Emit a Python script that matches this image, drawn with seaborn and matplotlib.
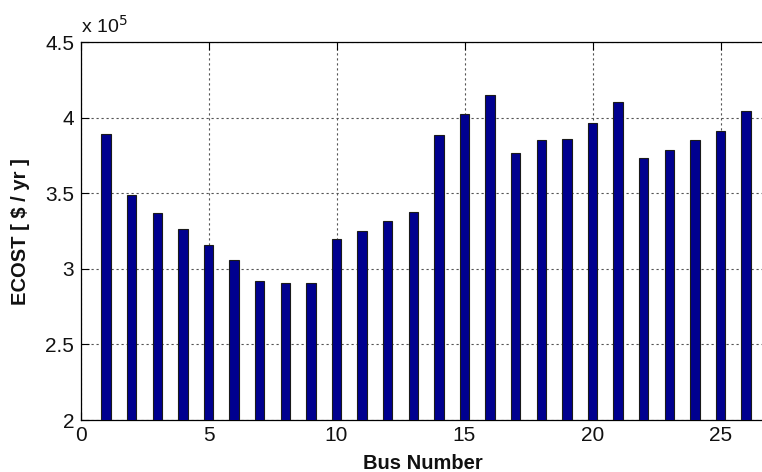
import matplotlib
matplotlib.use("Agg")
import matplotlib.pyplot as plt
import seaborn as sns
import pandas as pd

# Expected cost of interruption per load bus
bus_numbers = list(range(1, 27))
ecost = [3.896, 3.489, 3.373, 3.266, 3.159, 3.059, 2.922, 2.910, 2.904, 3.199,
         3.253, 3.320, 3.380, 3.884, 4.023, 4.150, 3.766, 3.853, 3.862, 3.969,
         4.107, 3.735, 3.786, 3.856, 3.916, 4.043]  # in units of 1e5 $/yr
x_ticks = [0, 5, 10, 15, 20, 25]
y_ticks = [2, 2.5, 3, 3.5, 4, 4.5]
y_tick_labels = ["2", "2.5", "3", "3.5", "4", "4.5"]

df = pd.DataFrame({"bus": bus_numbers, "ecost": ecost})

sns.set_theme(style="white")
plt.rcParams["font.family"] = ["Liberation Sans", "DejaVu Sans"]

W, H = 762, 472
x0_px, y_top_px, y_bot_px = 80.5, 42.3, 420.0
px_per_unit = 25.6
x_max = 30

fig = plt.figure(figsize=(W / 100, H / 100), dpi=100)
ax = fig.add_axes([x0_px / W, (H - y_bot_px) / H,
                   x_max * px_per_unit / W, (y_bot_px - y_top_px) / H])

sns.barplot(data=df, x="bus", y="ecost", native_scale=True, width=0.36,
            color="#00008f", saturation=1, edgecolor="#1a1a1a", linewidth=0.8,
            ax=ax, zorder=3)

ax.set_xlim(0, x_max)
ax.set_ylim(2, 4.5)
ax.set_xticks(x_ticks)
ax.set_xticklabels([str(t) for t in x_ticks])
ax.set_yticks(y_ticks)
ax.set_yticklabels(y_tick_labels)

ax.grid(True, color="#555555", linestyle=(0, (2, 2.5)), linewidth=0.8, zorder=0)
ax.set_axisbelow(True)

for side in ["left", "bottom", "top"]:
    ax.spines[side].set_visible(True)
    ax.spines[side].set_color("black")
    ax.spines[side].set_linewidth(0.9)
ax.spines["right"].set_visible(False)

ax.tick_params(axis="both", direction="in", length=6, width=0.8, color="black",
               labelsize=15, labelcolor="#111111", top=True, right=False,
               bottom=True, left=True)
ax.tick_params(axis="y", pad=4.5)
ax.tick_params(axis="x", pad=4.5)

ax.set_xlabel("Bus Number", fontsize=14.5, fontweight="bold", color="#111111")
ax.set_ylabel("ECOST [ $ / yr ]", fontsize=14.5, fontweight="bold", color="#111111")
ax_w_px = x_max * px_per_unit
ax_h_px = y_bot_px - y_top_px
ax.xaxis.set_label_coords((422.5 - x0_px) / ax_w_px, (y_bot_px - 454) / ax_h_px)
ax.yaxis.set_label_coords((30.5 - x0_px) / ax_w_px, 0.5)

fig.text(81 / W, 1 - 32.5 / H, r"x 10$^{5}$", fontsize=14, color="#111111",
         ha="left", va="baseline")

fig.savefig("out.png", dpi=100, facecolor="white")
